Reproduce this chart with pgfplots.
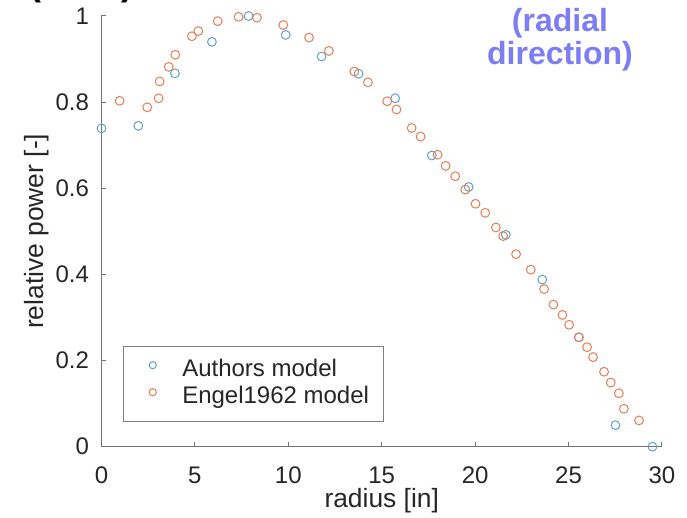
\documentclass[border=0pt]{standalone}
\usepackage{fontspec}
\setmainfont{Liberation Sans}
\usepackage{pgfplots}
\pgfplotsset{compat=1.18}

\definecolor{mblue}{RGB}{95,160,215}
\definecolor{morange}{RGB}{232,125,85}
\definecolor{annot}{RGB}{125,125,245}

\pgfplotstableread{
x y
0.00 0.739
1.97 0.745
3.93 0.867
5.91 0.940
7.87 1.000
9.86 0.956
11.78 0.906
13.76 0.866
15.72 0.809
17.68 0.676
19.65 0.603
21.64 0.492
23.59 0.388
25.55 0.254
27.51 0.050
29.49 0.000
}\authors

\pgfplotstableread{
x y
0.97 0.803
2.45 0.788
3.06 0.809
3.11 0.848
3.60 0.882
3.95 0.910
4.84 0.953
5.18 0.965
6.22 0.988
7.34 0.998
8.32 0.996
9.73 0.979
11.11 0.950
12.17 0.919
13.53 0.871
14.26 0.846
15.29 0.802
15.79 0.783
16.60 0.740
17.08 0.720
17.99 0.678
18.42 0.652
18.93 0.628
19.47 0.597
20.02 0.564
20.54 0.543
21.11 0.509
21.50 0.489
22.19 0.447
22.98 0.411
23.69 0.366
24.19 0.330
24.67 0.306
25.03 0.283
25.55 0.254
25.99 0.231
26.31 0.208
26.90 0.174
27.26 0.149
27.69 0.124
27.96 0.088
28.77 0.061
}\engel

\begin{document}
\begin{tikzpicture}
\begin{axis}[
  scale only axis, width=280.25pt, height=215.35pt,
  xmin=0, xmax=30, ymin=0, ymax=1,
  axis lines=left,
  axis line style={-, black!55, line width=0.5pt},
  xtick={0,5,...,30}, ytick={0,0.2,0.4,0.6,0.8,1},
  tick align=inside, major tick length=2.5pt,
  tick style={black!55, line width=0.5pt},
  /pgf/number format/assume math mode=true,
  ticklabel style={font=\fontsize{12}{14}\selectfont, text=black!85},
  xticklabel style={yshift=-6.5pt},
  yticklabel style={xshift=-2.75pt},
  xlabel={radius [in]}, ylabel={relative power [-]},
  label style={font=\fontsize{13.2}{15}\selectfont, text=black!85},
  xlabel style={at={(axis description cs:0.5,-0.08)}, anchor=north},
  ylabel style={at={(axis description cs:-0.116,0.5)}, anchor=center},
  legend cell align=left,
  legend style={at={(rel axis cs:0.039,0.058)}, anchor=south west,
    draw=black!50, line width=0.5pt, fill=white,
    inner xsep=0pt, inner ysep=6pt, row sep=1.5pt,
    font=\fontsize{12}{14}\selectfont, text=black!85,
    nodes={inner sep=0pt, text height=9pt, text depth=3pt}},
  legend image code/.code={\path (0pt,0pt) (28.7pt,0pt);
    \draw[#1, mark size=1.8pt] plot coordinates {(14.2pt,2.5pt)};},
  clip=false,
]
\addplot[only marks, mark=o, mark size=2.2pt, mblue, line width=0.5pt] table {\authors};
\addlegendentry{Authors model}
\addplot[only marks, mark=o, mark size=2.2pt, morange, line width=0.5pt] table {\engel};
\addlegendentry{Engel1962 model\kern7pt}
\coordinate (o) at (axis cs:0,0);
\end{axis}
\node[font=\bfseries\fontsize{16}{16.5}\selectfont, text=annot, anchor=base] at ([shift={(229.25pt,207.35pt)}]o) {(radial};
\node[font=\bfseries\fontsize{16}{16.5}\selectfont, text=annot, anchor=base] at ([shift={(229.25pt,190.85pt)}]o) {direction)};
\node[font=\bfseries\fontsize{18}{18}\selectfont, anchor=base] at ([shift={(-10pt,225.35pt)}]o) {(axial)};
\pgfresetboundingbox
\path[use as bounding box] ([shift={(-50.75pt,-35.65pt)}]o) rectangle ([shift={(292.75pt,223.35pt)}]o);
\end{tikzpicture}
\end{document}
